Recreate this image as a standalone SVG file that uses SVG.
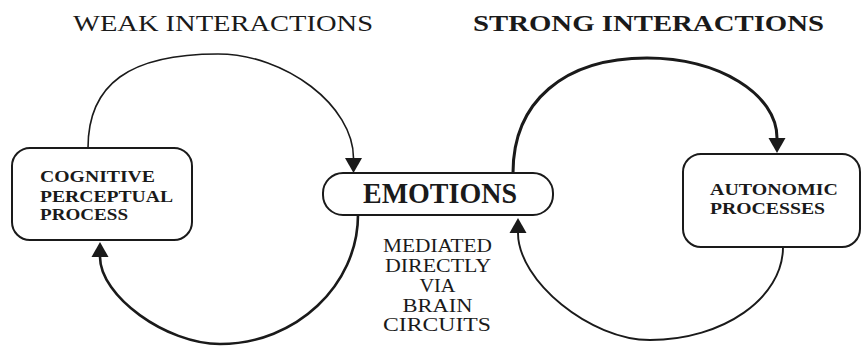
<svg xmlns="http://www.w3.org/2000/svg" width="862" height="346" viewBox="0 0 862 346">
<style>
.title{font-family:"Liberation Serif","Times New Roman",serif;font-size:24px;fill:#1a1a1a}
.bold{font-weight:bold}
.box{fill:#fff;stroke:#1a1a1a;stroke-width:2}
.lbl{font-family:"Liberation Serif","Times New Roman",serif;font-weight:bold;font-size:17.5px;fill:#1a1a1a}
.emo{font-family:"Liberation Serif","Times New Roman",serif;font-weight:bold;font-size:29px;fill:#1a1a1a}
.med{font-family:"Liberation Serif","Times New Roman",serif;font-size:18.5px;fill:#1a1a1a;text-anchor:middle}
.conn{fill:none;stroke:#1a1a1a}
</style>
<defs>
<marker id="arr" markerUnits="userSpaceOnUse" markerWidth="16" markerHeight="18" refX="0" refY="8.5" orient="auto" overflow="visible">
<path d="M0,0 L15,8.5 L0,17 z" fill="#1a1a1a"/>
</marker>
</defs>
<rect width="862" height="346" fill="#fff"/>
<g id="titles">
<text class="title" x="73" y="30.5" textLength="300" lengthAdjust="spacingAndGlyphs">WEAK INTERACTIONS</text>
<text class="title bold" x="473" y="30.5" textLength="351" lengthAdjust="spacingAndGlyphs">STRONG INTERACTIONS</text>
</g>
<g id="connectors">
<path class="conn" stroke-width="1.6" d="M88,148 C88,84 129.6,54 218,54 C285.75,54 353.5,106 353.5,158" marker-end="url(#arr)"/>
<path class="conn" stroke-width="2.6" d="M358,215 C358,285 295.9,344 220,344 C166,344 100,296 100,257" marker-end="url(#arr)"/>
<path class="conn" stroke-width="3" d="M513,173 C513,101.7 563.9,58 647,58 C718.5,58 777,94 777,138" marker-end="url(#arr)"/>
<path class="conn" stroke-width="1.9" d="M783,247 C783,298 723.2,340 650,340 C590.2,340 518,281 518,233" marker-end="url(#arr)"/>
</g>
<g id="cognitive">
<rect class="box" x="12" y="148" width="180" height="92" rx="18"/>
<text class="lbl" x="40" y="182" textLength="115" lengthAdjust="spacingAndGlyphs">COGNITIVE</text>
<text class="lbl" x="40" y="201.5" textLength="133" lengthAdjust="spacingAndGlyphs">PERCEPTUAL</text>
<text class="lbl" x="40" y="220" textLength="88" lengthAdjust="spacingAndGlyphs">PROCESS</text>
</g>
<g id="emotions">
<rect class="box" x="323" y="173" width="230" height="42" rx="20"/>
<text class="emo" x="363" y="203" textLength="154" lengthAdjust="spacingAndGlyphs">EMOTIONS</text>
</g>
<g id="autonomic">
<rect class="box" x="683" y="154" width="177" height="93" rx="18"/>
<text class="lbl" x="710" y="195" textLength="128" lengthAdjust="spacingAndGlyphs">AUTONOMIC</text>
<text class="lbl" x="710" y="213.5" textLength="115" lengthAdjust="spacingAndGlyphs">PROCESSES</text>
</g>
<g id="mediated">
<text class="med" x="437.5" y="252" textLength="109" lengthAdjust="spacingAndGlyphs">MEDIATED</text>
<text class="med" x="438" y="272" textLength="106" lengthAdjust="spacingAndGlyphs">DIRECTLY</text>
<text class="med" x="437.5" y="292" textLength="36" lengthAdjust="spacingAndGlyphs">VIA</text>
<text class="med" x="437.5" y="311.5" textLength="70" lengthAdjust="spacingAndGlyphs">BRAIN</text>
<text class="med" x="437" y="331" textLength="108" lengthAdjust="spacingAndGlyphs">CIRCUITS</text>
</g>
</svg>
